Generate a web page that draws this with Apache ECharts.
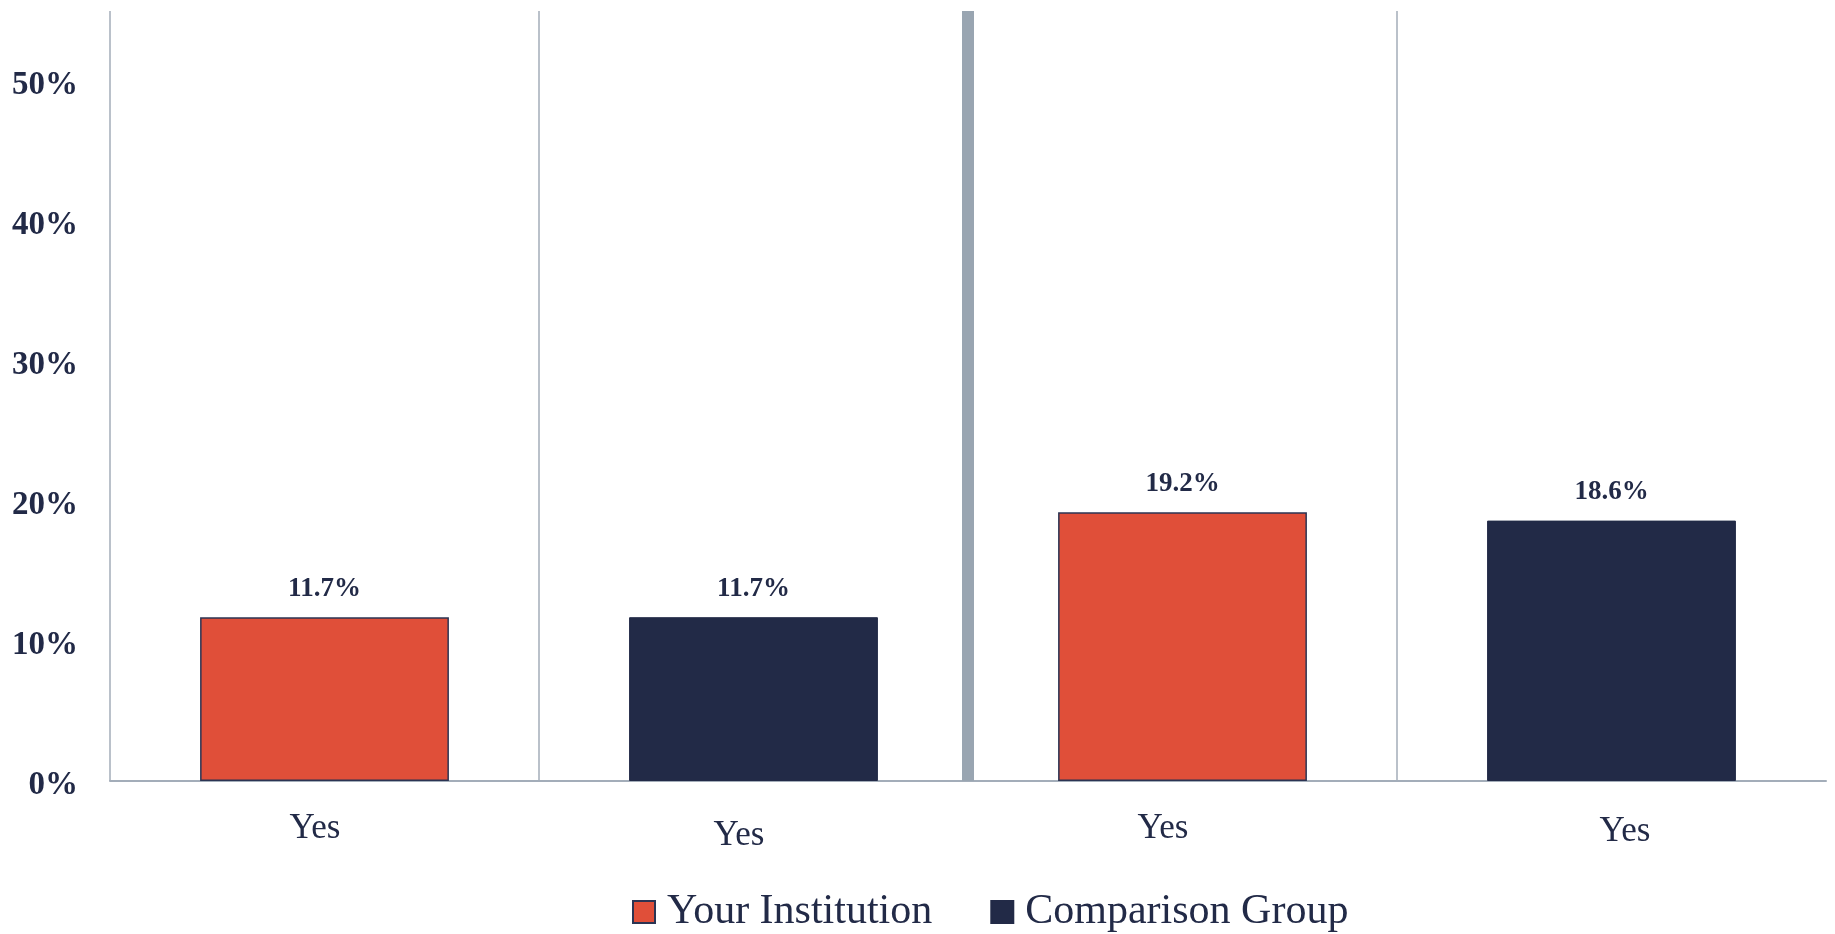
<!DOCTYPE html>
<html>
<head>
<meta charset="utf-8">
<script src="https://cdn.jsdelivr.net/npm/echarts@6/dist/echarts.min.js"></script>
<style>
html,body{margin:0;padding:0;background:#fff;}
#chart{width:1835px;height:934px;}
</style>
</head>
<body>
<div id="chart"></div>
<script>
// ---- data ----
var categories = ['Yes', 'Yes', 'Yes', 'Yes'];
var seriesNames = ['Your Institution', 'Comparison Group'];
var yourInstitution = [11.7, '-', 19.2, '-'];
var comparisonGroup = ['-', 11.7, '-', 18.6];
var yTicks = [0, 10, 20, 30, 40, 50];
var sectionDivider = [2]; // boundary between the two question groups (in category slots)

// ---- style ----
var labelShiftX = [-9.5, -14.5, -19.5, 13.5];
var labelShiftY = [0, 7, 0, 3];
var navy = '#222A47';
var red = '#E04F39';
var gray = '#A3ADB9';
var serif = '"Liberation Serif", "DejaVu Serif", serif';

function labelPadding(i) {
  var dx = labelShiftX[i], dy = labelShiftY[i];
  return [dy, dx < 0 ? -2 * dx : 0, 0, dx > 0 ? 2 * dx : 0];
}

var chart = echarts.init(document.getElementById('chart'));

var option = {
  animation: false,
  backgroundColor: '#ffffff',
  grid: { left: 110, right: 9, top: 11, bottom: 153, containLabel: false },
  legend: {
    data: seriesNames,
    top: 886,
    left: 627,
    itemWidth: 22,
    itemHeight: 22,
    itemGap: 58,
    icon: 'rect',
    textStyle: { fontFamily: serif, fontSize: 42, color: navy, padding: [0, 0, 0, 7] }
  },
  xAxis: [
    {
      type: 'category',
      data: categories.map(function (c, i) {
        return { value: c, textStyle: { padding: labelPadding(i) } };
      }),
      axisLine: { show: true, lineStyle: { color: gray, width: 2 } },
      axisTick: { show: false },
      axisLabel: { fontFamily: serif, fontSize: 35, color: navy, margin: 30 },
      splitLine: { show: true, showMaxLine: false, lineStyle: { color: gray, width: 1.5 } }
    },
    {
      type: 'value',
      min: 0,
      max: categories.length,
      show: false,
      splitLine: { show: false }
    }
  ],
  yAxis: {
    type: 'value',
    min: 0,
    max: 55,
    interval: 10,
    axisLine: { show: false },
    axisTick: { show: false },
    splitLine: { show: false },
    axisLabel: {
      color: navy, margin: 32,
      formatter: function (v) { return yTicks.indexOf(v) >= 0 ? '{t|' + v + '%}' : ''; },
      rich: {
        t: { fontFamily: serif, fontSize: 33, fontWeight: 'bold', color: navy, padding: [8, 0, 0, 0] }
      }
    }
  },
  series: [
    {
      name: seriesNames[0],
      type: 'bar',
      data: yourInstitution,
      barWidth: '58%',
      barGap: '-100%',
      itemStyle: { color: red, borderColor: '#2B3453', borderWidth: 1.5 },
      label: {
        show: true, position: 'top', distance: 15,
        fontFamily: serif, fontSize: 27, fontWeight: 'bold', color: navy,
        formatter: function (p) { return p.value.toFixed(1) + '%'; }
      }
    },
    {
      name: seriesNames[1],
      type: 'bar',
      data: comparisonGroup,
      barWidth: '58%',
      barGap: '-100%',
      itemStyle: { color: navy, borderColor: navy, borderWidth: 1 },
      label: {
        show: true, position: 'top', distance: 15,
        fontFamily: serif, fontSize: 27, fontWeight: 'bold', color: navy,
        formatter: function (p) { return p.value.toFixed(1) + '%'; }
      }
    },
    {
      name: 'divider',
      type: 'line',
      xAxisIndex: 1,
      data: [],
      silent: true,
      markLine: {
        silent: true,
        symbol: 'none',
        label: { show: false },
        lineStyle: { color: '#99A5B1', width: 12, type: 'solid' },
        data: sectionDivider.map(function (d) { return { xAxis: d + 0.004 }; })
      }
    }
  ]
};
chart.setOption(option);
</script>
</body>
</html>
